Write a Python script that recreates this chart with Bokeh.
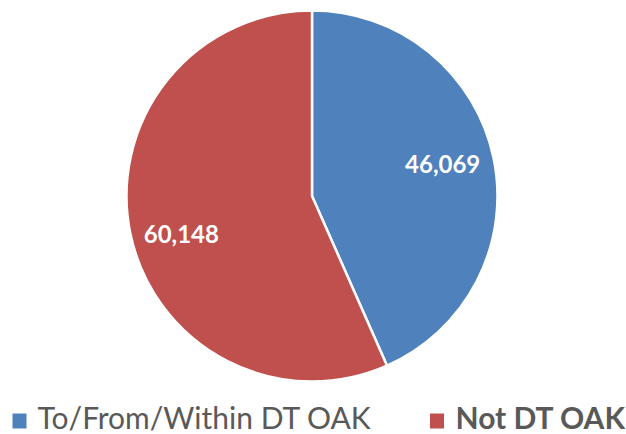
import math
from bokeh.plotting import figure
from bokeh.models import Range1d, ColumnDataSource
from bokeh.core.properties import value
from bokeh.embed import file_html
from bokeh.resources import INLINE

# ---- data ----
categories = ["To/From/Within DT OAK", "Not DT OAK"]
counts = [46069, 60148]
colors = ["#4F81BD", "#C0504D"]
legend_styles = ["normal", "bold"]

W, H = 626, 434
p = figure(width=W, height=H, output_backend="svg", toolbar_location=None,
           x_range=Range1d(0, W), y_range=Range1d(0, H), min_border=0)
p.axis.visible = False
p.grid.visible = False
p.outline_line_color = None
p.background_fill_color = "white"

cx, cy, R = 311.5, 238.5, 185.5
total = sum(counts)
starts, ends, lx, ly = [], [], [], []
a = math.pi / 2
for c in counts:
    sweep = 2 * math.pi * c / total
    starts.append(a)
    ends.append(a - sweep)
    mid = a - sweep / 2
    lx.append(cx + 0.72 * R * math.cos(mid))
    ly.append(cy + 0.72 * R * math.sin(mid))
    a -= sweep

src = ColumnDataSource(dict(start=starts, end=ends, color=colors,
                            lx=lx, ly=ly,
                            label=[f"{v:,}" for v in counts],
                            yoff=[-4, 10]))
p.wedge(x=cx, y=cy, radius=R, start_angle="start", end_angle="end",
        direction="clock", fill_color="color", line_color="white",
        line_width=2.5, source=src)
p.text(x="lx", y="ly", text="label", y_offset="yoff", source=src,
       text_color="white", text_font=value("Lato"), text_font_style="bold",
       text_font_size="24px", text_align="center", text_baseline="middle")

# legend (drawn manually: the two entries have different weights)
leg_sq_x = [19, 436.5]
leg_tx_x = [37, 455]
leg_y = 13.5
p.rect(x=leg_sq_x, y=[leg_y] * 2, width=14, height=15,
       fill_color=colors, line_color=None)
for i in range(2):
    p.text(x=[leg_tx_x[i]], y=[leg_y + 4], text=[categories[i]],
           text_color="#595959", text_font=value("Lato"),
           text_font_style=legend_styles[i], text_font_size="30px",
           text_align="left", text_baseline="middle")

open("out.html", "w").write(file_html(p, INLINE))
